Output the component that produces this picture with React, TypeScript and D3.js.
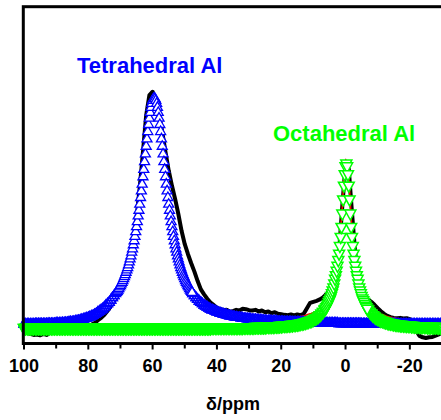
import * as d3 from 'd3';

const WIDTH = 441;
const HEIGHT = 420;

const majorTicks = [100, 80, 60, 40, 20, 0, -20];
const minorTicks = [90, 70, 50, 30, 10, -10];
const tickLabels = ['100', '80', '60', '40', '20', '0', '-20'];

// experimental spectrum and cumulative fit, 1 ppm steps from 100 down to -30
const spectrumStart = 100;
const spectrumStep = 1;
const experimental = [
  3.3, 3.0, 2.7, 2.4, 2.5, 2.3, 2.7, 2.4, 3.0, 3.2,
  3.4, 3.5, 3.8, 3.7, 4.0, 4.2, 4.1, 4.6, 4.7, 4.9,
  5.1, 5.5, 6.0, 6.8, 7.5, 8.4, 9.6, 11.0, 12.5, 14.0,
  15.9, 18.2, 21.2, 25.2, 30.5, 37.5, 46.5, 57.0, 68.0, 74.0,
  75.0, 72.5, 68.5, 63.0, 57.0, 51.5, 47.0, 43.0, 38.5, 33.5,
  29.5, 26.5, 23.8, 21.3, 18.5, 16.0, 14.5, 13.2, 12.1, 11.3,
  10.5, 10.2, 9.8, 9.9, 9.4, 9.5, 9.9, 9.7, 10.2, 10.1,
  9.8, 9.7, 9.9, 9.4, 9.7, 9.2, 9.4, 8.9, 9.2, 8.7,
  8.6, 8.4, 8.3, 8.5, 8.2, 8.5, 8.3, 8.7, 10.4, 12.0,
  12.3, 12.6, 13.0, 13.6, 14.6, 15.5, 16.2, 19.5, 27.5, 41.0,
  53.0, 52.0, 39.0, 27.0, 19.5, 15.5, 13.8, 13.0, 12.3, 11.4,
  10.4, 9.5, 8.7, 8.1, 7.7, 7.5, 7.4, 7.5, 7.3, 7.4,
  7.1, 5.8, 3.6, 2.1, 1.7, 1.5, 1.7, 1.8, 2.2, 2.6, 3.0,
];
const fitSum = [
  6.0, 6.0, 6.0, 6.0, 6.1, 6.1, 6.1, 6.1, 6.2, 6.2,
  6.3, 6.3, 6.4, 6.5, 6.6, 6.7, 6.9, 7.1, 7.4, 7.7,
  8.0, 8.4, 8.9, 9.6, 10.3, 11.1, 12.1, 13.2, 14.5, 15.8,
  17.5, 19.6, 22.2, 25.5, 29.7, 35.1, 41.8, 50.0, 59.1, 67.5,
  72.8, 72.8, 67.5, 59.1, 50.0, 41.8, 35.1, 29.7, 25.5, 22.2,
  19.6, 17.5, 15.8, 14.5, 13.4, 12.5, 11.7, 11.1, 10.5, 10.2,
  9.8, 9.4, 9.1, 8.9, 8.6, 8.4, 8.2, 8.1, 8.0, 7.9,
  7.8, 7.7, 7.7, 7.6, 7.5, 7.5, 7.4, 7.4, 7.4, 7.4,
  7.4, 7.5, 7.5, 7.6, 7.7, 7.7, 7.9, 8.1, 8.4, 8.7,
  9.0, 9.5, 10.3, 11.3, 12.7, 14.8, 17.7, 22.3, 28.7, 40.7,
  54.8, 49.0, 33.7, 25.1, 19.8, 16.1, 13.7, 12.0, 10.8, 9.9,
  9.2, 8.6, 8.3, 7.9, 7.7, 7.5, 7.3, 7.2, 7.1, 7.0,
  6.9, 6.8, 6.8, 6.7, 6.6, 6.5, 6.5, 6.5, 6.4, 6.3, 6.3,
];

// tetrahedral Al component: 100 -> 72 (0.5), 71.5 -> 47.75 (0.25), 47.5 -> -30 (0.5)
const tetraLeftTail = [
  6.0, 6.0, 6.0, 6.0, 6.0, 6.0, 6.0, 6.1, 6.1, 6.1,
  6.1, 6.1, 6.1, 6.1, 6.1, 6.2, 6.2, 6.2, 6.2, 6.2,
  6.3, 6.3, 6.3, 6.3, 6.4, 6.4, 6.5, 6.5, 6.6, 6.7,
  6.7, 6.8, 6.9, 7.0, 7.1, 7.2, 7.4, 7.5, 7.7, 7.8,
  8.0, 8.2, 8.4, 8.6, 8.9, 9.2, 9.6, 9.9, 10.3, 10.6,
  11.1, 11.6, 12.1, 12.5, 13.2, 13.9, 14.5,
];
const tetraPeak = [
  15.1, 15.5, 15.8, 16.2, 16.6, 17.1, 17.5, 18.0, 18.5, 19.0,
  19.6, 20.2, 20.8, 21.5, 22.2, 22.9, 23.7, 24.6, 25.5, 26.4,
  27.5, 28.5, 29.7, 30.9, 32.2, 33.6, 35.1, 36.6, 38.3, 40.0,
  41.8, 43.8, 45.8, 47.8, 50.0, 52.2, 54.5, 56.8, 59.1, 61.3,
  63.5, 65.6, 67.5, 69.2, 70.7, 71.9, 72.8, 73.3, 73.5,
  73.3, 72.8, 71.9, 70.7, 69.2, 67.5, 65.6, 63.5, 61.3, 59.1,
  56.8, 54.5, 52.2, 50.0, 47.8, 45.8, 43.8, 41.8, 40.0, 38.3,
  36.6, 35.1, 33.6, 32.2, 30.9, 29.7, 28.5, 27.5, 26.4, 25.5,
  24.6, 23.7, 22.9, 22.2, 21.5, 20.8, 20.2, 19.6, 19.0, 18.5,
  18.0, 17.5, 17.1, 16.6, 16.2, 15.8, 15.5,
];
const tetraRightTail = [
  15.1, 14.5, 13.9, 13.4, 12.9, 12.5, 12.1, 11.7, 11.4, 11.1,
  10.8, 10.5, 10.3, 10.1, 9.9, 9.7, 9.5, 9.3, 9.2, 9.0,
  8.9, 8.8, 8.6, 8.5, 8.4, 8.3, 8.2, 8.1, 8.0, 8.0,
  7.9, 7.8, 7.7, 7.7, 7.6, 7.6, 7.5,
  7.4, 7.4, 7.4, 7.3, 7.2, 7.2, 7.2, 7.1, 7.1, 7.0,
  7.0, 7.0, 6.9, 6.9, 6.9, 6.9, 6.8, 6.8, 6.8, 6.8,
  6.7, 6.7, 6.7, 6.7, 6.7, 6.6, 6.6, 6.6, 6.6, 6.6,
  6.6, 6.6, 6.6, 6.5, 6.5, 6.5, 6.5, 6.5, 6.5, 6.5,
  6.4, 6.4, 6.4, 6.4, 6.4, 6.4, 6.3, 6.3, 6.3, 6.3,
  6.3, 6.3, 6.3, 6.3, 6.2, 6.2, 6.2, 6.2, 6.2, 6.2,
  6.2, 6.2, 6.2, 6.2, 6.2, 6.2, 6.2, 6.2, 6.1, 6.1,
  6.1, 6.1, 6.1, 6.1, 6.1, 6.1, 6.1, 6.1, 6.1, 6.1,
  6.1, 6.1, 6.1, 6.1, 6.1, 6.1, 6.1, 6.1, 6.1, 6.1,
  6.0, 6.0, 6.0, 6.0, 6.0, 6.0, 6.0, 6.0, 6.0, 6.0,
  6.0, 6.0, 6.0, 6.0, 6.0, 6.0, 6.0, 6.0, 6.0, 6.0,
  6.0, 6.0, 6.0, 6.0, 6.0, 6.0, 6.0, 6.0, 6.0,
];

// octahedral Al component: 100 -> 6.5 (0.5), 6.25 -> -6.75 (0.25), -7 -> -30 (0.5)
const octaLeftTail = [
  4, 4, 4, 4, 4, 4, 4, 4, 4, 4, 4, 4, 4, 4, 4, 4, 4, 4, 4, 4,
  4, 4, 4, 4, 4, 4, 4, 4, 4, 4, 4, 4, 4, 4, 4, 4, 4, 4, 4, 4,
  4, 4, 4, 4, 4, 4, 4, 4, 4, 4, 4, 4, 4, 4, 4, 4, 4, 4, 4, 4,
  4, 4, 4, 4, 4, 4, 4, 4, 4, 4, 4, 4, 4, 4, 4, 4, 4, 4, 4, 4,
  4, 4, 4, 4, 4, 4, 4, 4, 4, 4, 4, 4, 4, 4, 4, 4, 4, 4, 4, 4,
  4, 4, 4, 4, 4, 4, 4, 4, 4, 4, 4, 4, 4, 4, 4, 4, 4,
  4.1, 4.1, 4.1, 4.1, 4.1, 4.1, 4.1, 4.1, 4.1, 4.1,
  4.1, 4.1, 4.1, 4.1, 4.1, 4.1, 4.1, 4.1, 4.1, 4.1,
  4.2, 4.2, 4.2, 4.2, 4.2, 4.2, 4.2,
  4.3, 4.3, 4.3, 4.3, 4.3, 4.3, 4.3, 4.4, 4.4, 4.4, 4.4, 4.4,
  4.5, 4.5, 4.5, 4.6, 4.6,
  4.7, 4.7, 4.7, 4.8, 4.8, 4.9, 4.9, 5.0, 5.0, 5.1,
  5.2, 5.3, 5.4, 5.5, 5.6, 5.8, 5.9, 6.1, 6.2, 6.5,
  6.8, 7.0, 7.4, 7.8, 8.3, 8.8, 9.5,
];
const octaPeak = [
  9.8, 10.2, 10.7, 11.2, 11.8, 12.3, 12.8, 13.6, 14.4, 15.2,
  16.1, 17.3, 18.7, 19.8, 21.1, 22.6, 24.3, 26.2, 28.5, 31.2,
  34.2, 38.2, 42.4, 46.5, 49.9, 52.3, 53.1,
  52.3, 49.9, 46.5, 42.4, 38.2, 34.2, 31.2, 28.5, 26.2, 24.3,
  22.6, 21.1, 19.8, 18.7, 17.3, 16.1, 15.2, 14.4, 13.6, 12.8,
  12.3, 11.8, 11.2, 10.7, 10.2, 9.8,
];
const octaRightTail = [
  9.5, 8.8, 8.3, 7.8, 7.4, 7.0, 6.8, 6.5, 6.2, 6.1,
  5.9, 5.8, 5.6, 5.5, 5.4, 5.3, 5.2, 5.1, 5.0, 5.0,
  4.9, 4.9, 4.8, 4.8, 4.7, 4.7, 4.7, 4.6, 4.6, 4.5,
  4.5, 4.5, 4.4, 4.4, 4.4, 4.4, 4.4, 4.3, 4.3, 4.3,
  4.3, 4.3, 4.3, 4.3, 4.2, 4.2, 4.2,
];

type Pt = { ppm: number; value: number };

function sampled(start: number, step: number, values: number[]): Pt[] {
  return values.map((value, i) => ({ ppm: start - i * step, value }));
}

const FONT = "Arial, 'Liberation Sans', sans-serif";
const BLUE = '#0000ff';
const GREEN = '#00ff00';

const UP_TRIANGLE = 'M0,-4.25L5,4.25L-5,4.25Z';
const DOWN_TRIANGLE = 'M-5.5,-5L5.5,-5L0,5Z';

type MarkerProps = {
  points: Pt[];
  shape: string;
  color: string;
  width: number;
  filled: boolean;
  x: d3.ScaleLinear<number, number>;
  y: d3.ScaleLinear<number, number>;
};

function Markers({ points, shape, color, width, filled, x, y }: MarkerProps) {
  return (
    <g fill={filled ? '#fff' : 'none'} stroke={color} strokeWidth={width}>
      {points.map((d, i) => (
        <path key={i} d={shape} transform={`translate(${x(d.ppm)},${y(d.value)})`} />
      ))}
    </g>
  );
}

export default function App() {
  const x = d3.scaleLinear().domain([100, -30]).range([24, 442]);
  const y = d3.scaleLinear().domain([0, 100]).range([343, 8]);

  const expPts = sampled(spectrumStart, spectrumStep, experimental);
  const fitPts = sampled(spectrumStart, spectrumStep, fitSum);

  const tetraTails = [...sampled(100, 0.5, tetraLeftTail), ...sampled(47.5, 0.5, tetraRightTail)];
  const tetraTop = sampled(71.5, 0.25, tetraPeak);
  const octaTails = [...sampled(100, 0.5, octaLeftTail), ...sampled(-7, 0.5, octaRightTail)];
  const octaTop = sampled(6.25, 0.25, octaPeak);

  const line = d3
    .line<Pt>()
    .x((d) => x(d.ppm))
    .y((d) => y(d.value));
  const smooth = d3
    .line<Pt>()
    .x((d) => x(d.ppm))
    .y((d) => y(d.value))
    .curve(d3.curveMonotoneX);

  const axisY = 343.5;

  return (
    <svg
      width={WIDTH}
      height={HEIGHT}
      style={{ position: 'absolute', left: 0, top: 0, display: 'block', background: '#fff' }}
    >
      <path d={line(expPts) ?? ''} fill="none" stroke="#000" strokeWidth={4} strokeLinejoin="round" />
      <path d={smooth(fitPts) ?? ''} fill="none" stroke="#ff0000" strokeWidth={1.6} />

      {/* tetrahedral component: open up-triangles */}
      <Markers points={tetraTails} shape={UP_TRIANGLE} color={BLUE} width={1.3} filled x={x} y={y} />
      <Markers points={tetraTails} shape={UP_TRIANGLE} color={BLUE} width={1.3} filled={false} x={x} y={y} />
      <Markers points={tetraTop} shape={UP_TRIANGLE} color={BLUE} width={1.3} filled x={x} y={y} />

      {/* octahedral component: open down-triangles */}
      <Markers points={octaTails} shape={DOWN_TRIANGLE} color={GREEN} width={1.5} filled x={x} y={y} />
      <Markers points={octaTails} shape={DOWN_TRIANGLE} color={GREEN} width={1.5} filled={false} x={x} y={y} />
      <Markers points={octaTop} shape={DOWN_TRIANGLE} color={GREEN} width={1.5} filled x={x} y={y} />

      {/* frame */}
      <rect
        x={x(100) - 0.7}
        y={6.7}
        width={x(-30) - x(100) + 2}
        height={axisY - 6.7}
        fill="none"
        stroke="#000"
        strokeWidth={3}
      />

      {/* bottom ticks */}
      {majorTicks.map((t) => (
        <line key={`M${t}`} x1={x(t)} x2={x(t)} y1={axisY} y2={axisY + 6} stroke="#000" strokeWidth={2} />
      ))}
      {minorTicks.map((t) => (
        <line key={`m${t}`} x1={x(t)} x2={x(t)} y1={axisY} y2={axisY + 5} stroke="#000" strokeWidth={2} />
      ))}
      {majorTicks.map((t, i) => (
        <text
          key={`l${t}`}
          x={x(t)}
          y={372}
          textAnchor="middle"
          fontFamily={FONT}
          fontWeight="bold"
          fontSize={18}
          fill="#000"
        >
          {tickLabels[i]}
        </text>
      ))}

      <text x={233} y={410} textAnchor="middle" fontFamily={FONT} fontWeight="bold" fontSize={18} fill="#000">
        δ/ppm
      </text>

      <text x={77} y={73} fontFamily={FONT} fontWeight="bold" fontSize={22} fill={BLUE}>
        Tetrahedral Al
      </text>
      <text x={273} y={141} fontFamily={FONT} fontWeight="bold" fontSize={22} fill={GREEN}>
        Octahedral Al
      </text>
    </svg>
  );
}
